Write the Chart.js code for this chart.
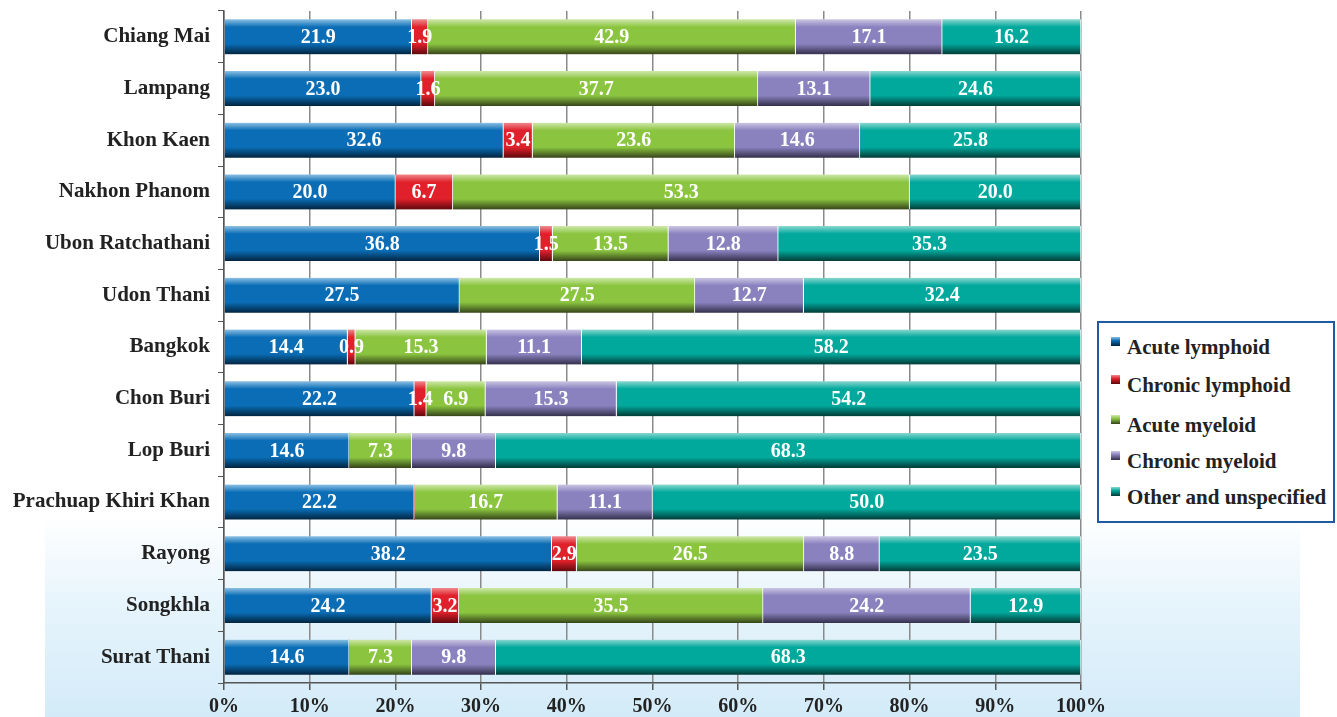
<!DOCTYPE html>
<html>
<head>
<meta charset="utf-8">
<script src="https://cdn.jsdelivr.net/npm/chart.js@4.4.1/dist/chart.umd.min.js"></script>
<style>
  body { margin: 0; background: #fff; }
  #wrap { position: relative; width: 1337px; height: 717px; overflow: hidden; }
  #bg { position: absolute; left: 45px; top: 515px; width: 1255px; height: 202px;
        background: linear-gradient(to bottom, #ffffff 0%, #e6f4fc 45%, #d3ebf8 100%); }
  #salesChart { position: absolute; left: 0; top: 0; }
  #legend { position: absolute; left: 1097px; top: 321px; width: 234px; height: 198px;
            border: 2.5px solid #1f5aa6; background: #fff;
            font: bold 21px "Liberation Serif", "Times New Roman", serif; color: #222; }
  .item { position: absolute; left: 12px; white-space: nowrap; }
  .item span { display: inline-block; width: 9px; height: 9px; margin-right: 7px; vertical-align: 8px; }
</style>
</head>
<body>
<div id="wrap">
  <div id="bg"></div>
  <canvas id="salesChart" width="1337" height="717"></canvas>
  <div id="legend"></div>
</div>
<script>
// categories and series (percent of cases per province)
var provinces = ["Chiang Mai", "Lampang", "Khon Kaen", "Nakhon Phanom", "Ubon Ratchathani",
  "Udon Thani", "Bangkok", "Chon Buri", "Lop Buri", "Prachuap Khiri Khan", "Rayong",
  "Songkhla", "Surat Thani"];
var acuteLymphoid   = [21.9, 23.0, 32.6, 20.0, 36.8, 27.5, 14.4, 22.2, 14.6, 22.2, 38.2, 24.2, 14.6];
var chronicLymphoid = [1.9, 1.6, 3.4, 6.7, 1.5, 0, 0.9, 1.4, 0, 0, 2.9, 3.2, 0];
var acuteMyeloid    = [42.9, 37.7, 23.6, 53.3, 13.5, 27.5, 15.3, 6.9, 7.3, 16.7, 26.5, 35.5, 7.3];
var chronicMyeloid  = [17.1, 13.1, 14.6, 0, 12.8, 12.7, 11.1, 15.3, 9.8, 11.1, 8.8, 24.2, 9.8];
var otherUnspec     = [16.2, 24.6, 25.8, 20.0, 35.3, 32.4, 58.2, 54.2, 68.3, 50.0, 23.5, 12.9, 68.3];
var tickLabels = ["0%", "10%", "20%", "30%", "40%", "50%", "60%", "70%", "80%", "90%", "100%"];

var series = [
  { label: "Acute lymphoid", values: acuteLymphoid, light: "#8cc0e4", main: "#0a6db5", dark: "#01243f" },
  { label: "Chronic lymphoid", values: chronicLymphoid, light: "#f08a8e", main: "#e0202b", dark: "#5e080c" },
  { label: "Acute myeloid", values: acuteMyeloid, light: "#cfe8ab", main: "#8bc540", dark: "#35441a" },
  { label: "Chronic myeloid", values: chronicMyeloid, light: "#cbc6e3", main: "#8a82bf", dark: "#332f4a" },
  { label: "Other and unspecified", values: otherUnspec, light: "#8ad8d0", main: "#01a89c", dark: "#013b36" }
];

var FONT = "'Liberation Serif', 'Times New Roman', serif";
var BAR = 35;

// totals so every row fills 100%
var totals = provinces.map(function (p, i) {
  return series.reduce(function (s, d) { return s + d.values[i]; }, 0);
});

function barGradient(s) {
  return function (context) {
    var chart = context.chart;
    var yScale = chart.scales.y;
    if (!yScale || context.dataIndex === undefined) return s.main;
    var cy = yScale.getPixelForValue(context.dataIndex);
    if (!isFinite(cy)) return s.main;
    var g = chart.ctx.createLinearGradient(0, cy - BAR / 2, 0, cy + BAR / 2);
    g.addColorStop(0, s.light);
    g.addColorStop(0.22, s.main);
    g.addColorStop(0.7, s.main);
    g.addColorStop(1, s.dark);
    return g;
  };
}

var valueLabels = {
  id: "valueLabels",
  afterDatasetsDraw: function (chart) {
    var ctx = chart.ctx;
    ctx.save();
    ctx.font = "bold 20px " + FONT;
    ctx.fillStyle = "#fff";
    ctx.textAlign = "center";
    ctx.textBaseline = "middle";
    chart.data.datasets.forEach(function (ds, di) {
      var meta = chart.getDatasetMeta(di);
      meta.data.forEach(function (bar, i) {
        var v = ds.raw[i];
        if (!v) return;
        var c = bar.getCenterPoint();
        ctx.fillText(v.toFixed(1), c.x, c.y + 1);
      });
    });
    ctx.restore();
  }
};

var ctx = document.getElementById("salesChart").getContext("2d");
var salesChart = new Chart(ctx, {
  type: "bar",
  data: {
    labels: provinces,
    datasets: series.map(function (s) {
      return {
        label: s.label,
        raw: s.values,
        data: s.values.map(function (v, i) { return v / totals[i] * 100; }),
        backgroundColor: barGradient(s),
        borderColor: "#ffffff",
        borderWidth: { left: 0, right: 1, top: 0, bottom: 0 },
        borderSkipped: false,
        barThickness: BAR
      };
    })
  },
  options: {
    indexAxis: "y",
    responsive: false,
    animation: false,
    layout: { padding: { left: 0, right: 256, top: 11, bottom: 0 } },
    plugins: { legend: { display: false }, tooltip: { enabled: false } },
    scales: {
      x: {
        stacked: true,
        min: 0,
        max: 100,
        afterFit: function (scale) { scale.height = 34; },
        grid: { color: "#8a8a8a", lineWidth: 1.5, tickLength: 7, tickColor: "#555" },
        border: { display: true, color: "#555", width: 1.5 },
        ticks: {
          stepSize: 10,
          padding: 5,
          color: "#222",
          font: { family: FONT, size: 20, weight: "bold" },
          callback: function (v, i) { return tickLabels[i]; }
        }
      },
      y: {
        stacked: true,
        afterFit: function (scale) {
          scale.width = 224;
          scale.paddingTop = 0;
          scale.paddingBottom = 0;
        },
        grid: { offset: true, drawOnChartArea: false, tickLength: 6, tickColor: "#555" },
        border: { display: true, color: "#555", width: 1.5 },
        ticks: {
          padding: 8,
          color: "#222",
          font: { family: FONT, size: 21, weight: "bold" }
        }
      }
    }
  },
  plugins: [valueLabels]
});

// legend built from the same series
var legend = document.getElementById("legend");
var tops = [12, 50, 90, 126, 162];
series.forEach(function (s, i) {
  var d = document.createElement("div");
  d.className = "item";
  d.style.top = tops[i] + "px";
  var m = document.createElement("span");
  m.style.background = "linear-gradient(to bottom, " + s.light + ", " + s.main + " 40%, " + s.dark + ")";
  d.appendChild(m);
  d.appendChild(document.createTextNode(s.label));
  legend.appendChild(d);
});
</script>
</body>
</html>
